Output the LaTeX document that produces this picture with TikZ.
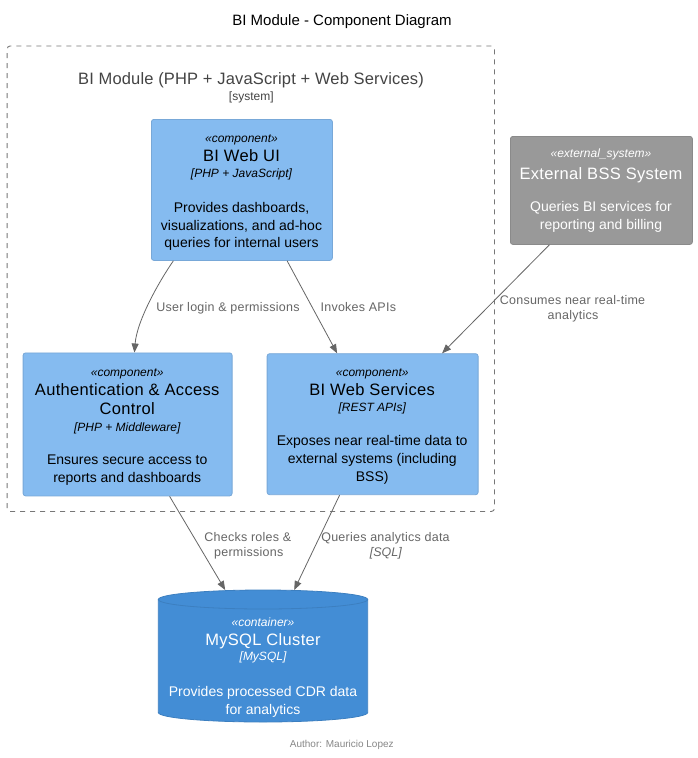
\documentclass[tikz,border=0pt]{standalone}
\usepackage{fontspec}
\setmainfont{Liberation Sans}
\usetikzlibrary{arrows.meta}
\definecolor{compfill}{HTML}{85BBF0}
\definecolor{compdraw}{HTML}{78A8D8}
\definecolor{dbfill}{HTML}{438DD5}
\definecolor{dbdraw}{HTML}{3C7FC0}
\definecolor{extfill}{HTML}{999999}
\definecolor{extdraw}{HTML}{8A8A8A}
\definecolor{edgecol}{HTML}{666666}
\definecolor{bndcol}{HTML}{777777}
\definecolor{bndtext}{HTML}{444444}
\tikzset{
  compbox/.style={draw=compdraw, fill=compfill, rounded corners=2.5pt, line width=0.8pt, anchor=north west, inner sep=0pt},
  extbox/.style={draw=extdraw, fill=extfill, rounded corners=2.5pt, line width=0.8pt, anchor=north west, inner sep=0pt},
  bndbox/.style={draw=bndcol, dash pattern=on 5pt off 5pt, rounded corners=3pt, line width=0.9pt, anchor=north west, inner sep=0pt},
  txt/.style={anchor=base, inner sep=0pt},
  stereo/.style={txt, font=\fontsize{12}{14}\selectfont\itshape},
  ename/.style={txt, font=\fontsize{16.5}{19}\selectfont\addfontfeatures{LetterSpace=2}},
  tech/.style={txt, font=\fontsize{12}{14}\selectfont\itshape},
  desc/.style={txt, font=\fontsize{14}{17}\selectfont},
  elabel/.style={txt, text=edgecol, font=\fontsize{12.5}{15}\selectfont\addfontfeatures{LetterSpace=2}},
  elabeli/.style={txt, text=edgecol, font=\fontsize{12.5}{15}\selectfont\itshape},
  edge/.style={draw=edgecol, line width=0.8pt, -{Triangle[length=9pt,width=7pt]}},
}
\begin{document}
\begin{tikzpicture}[x=1pt,y=-1pt]
\useasboundingbox (0,0) rectangle (697,758);
\fill[white] (0,0) rectangle (697,758);

% title
\node[txt, font=\fontsize{15}{18}\selectfont] (title) at (342,25.3) {BI Module - Component Diagram};

% boundary
\node[bndbox, minimum width=487.3pt, minimum height=465.5pt] (bnd) at (6.7,45.5) {};
\node[txt, text=bndtext, font=\fontsize{16.5}{19}\selectfont\addfontfeatures{LetterSpace=1}] (bndname) at (251,84.8) {BI Module (PHP + JavaScript + Web Services)};
\node[txt, text=bndtext, font=\fontsize{12}{14}\selectfont] (bndtype) at (251.3,100.9) {[system]};

% BI Web UI
\node[compbox, minimum width=181pt, minimum height=141pt] (ui) at (151,119) {};
\node[stereo] (uis) at (241.5,142.2) {«component»};
\node[ename] (uin) at (241.5,161.8) {BI Web UI};
\node[tech] (uit) at (241.5,177.2) {[PHP + JavaScript]};
\node[desc] (uid1) at (241.5,212.6) {Provides dashboards,};
\node[desc] (uid2) at (241.5,230.6) {visualizations, and ad-hoc};
\node[desc] (uid3) at (241.5,247.6) {queries for internal users};

% Authentication
\node[compbox, minimum width=209pt, minimum height=143pt] (auth) at (22.7,352.5) {};
\node[stereo] (auths) at (127.2,376.5) {«component»};
\node[ename] (authn1) at (127.2,395.1) {Authentication \& Access};
\node[ename] (authn2) at (127.2,414.8) {Control};
\node[tech] (autht) at (127.2,431.5) {[PHP + Middleware]};
\node[desc] (authd1) at (127.2,464.9) {Ensures secure access to};
\node[desc] (authd2) at (127.2,482.6) {reports and dashboards};

% BI Web Services
\node[compbox, minimum width=211pt, minimum height=141pt] (ws) at (266.7,353.3) {};
\node[stereo] (wss) at (372.2,376.9) {«component»};
\node[ename] (wsn) at (372.2,395.8) {BI Web Services};
\node[tech] (wst) at (372.2,411.9) {[REST APIs]};
\node[desc] (wsd1) at (372.2,445.9) {Exposes near real-time data to};
\node[desc] (wsd2) at (372.2,463.6) {external systems (including};
\node[desc] (wsd3) at (372.2,481.6) {BSS)};

% External BSS
\node[extbox, minimum width=182pt, minimum height=108pt] (bss) at (510,136) {};
\node[stereo, text=white] (bsss) at (601,157.5) {«external\_system»};
\node[ename, text=white] (bssn) at (601,179.1) {External BSS System};
\node[desc, text=white] (bssd1) at (601,211.6) {Queries BI services for};
\node[desc, text=white] (bssd2) at (601,229.2) {reporting and billing};

% MySQL cylinder
\node[anchor=north west, inner sep=0pt, minimum width=209.4pt, minimum height=132pt] (db) at (158.3,590) {};
\path[fill=dbfill, draw=dbdraw, line width=0.8pt] (158.3,599.5) -- (158.3,712.5)
  arc[start angle=180, end angle=0, x radius=104.7, y radius=9.5] -- (367.7,599.5)
  arc[start angle=0, end angle=-180, x radius=104.7, y radius=9.5] -- cycle;
\draw[dbdraw, line width=0.8pt] (158.3,599.5) arc[start angle=180, end angle=0, x radius=104.7, y radius=9.5];
\node[stereo, text=white] (dbs) at (263,626.9) {«container»};
\node[ename, text=white] (dbn) at (263,645.8) {MySQL Cluster};
\node[tech, text=white] (dbt) at (263,660.9) {[MySQL]};
\node[desc, text=white] (dbd1) at (263,696.6) {Provides processed CDR data};
\node[desc, text=white] (dbd2) at (263,714.2) {for analytics};

% edges
\draw[edge] ([xshift=-68.5pt]ui.south) .. controls (160,280) and (137,320) .. ([xshift=6.8pt]auth.north);
\draw[edge] ([xshift=45.2pt]ui.south) -- ([xshift=-35.5pt]ws.north);
\draw[edge] ([xshift=-52pt]bss.south) -- ([xshift=69.5pt]ws.north);
\draw[edge] ([xshift=42pt]auth.south) -- ([xshift=-38pt]db.north);
\draw[edge] ([xshift=-33pt]ws.south) -- ([xshift=31pt]db.north);

% edge labels
\node[elabel] (l1) at (228,311.1) {User login \& permissions};
\node[elabel] (l2) at (358.3,311.1) {Invokes APIs};
\node[elabel] (l3a) at (572.5,304.4) {Consumes near real-time};
\node[elabel] (l3b) at (573,319.4) {analytics};
\node[elabel] (l4a) at (247.8,541.1) {Checks roles \&};
\node[elabel] (l4b) at (248.7,556.7) {permissions};
\node[elabel] (l5a) at (385.5,541.1) {Queries analytics data};
\node[elabeli] (l5b) at (385.8,556.4) {[SQL]};

% footer
\node[txt, text=black!47, font=\fontsize{10}{12}\selectfont] (author) at (341.8,747.8) {Author: Mauricio Lopez};
\end{tikzpicture}
\end{document}
